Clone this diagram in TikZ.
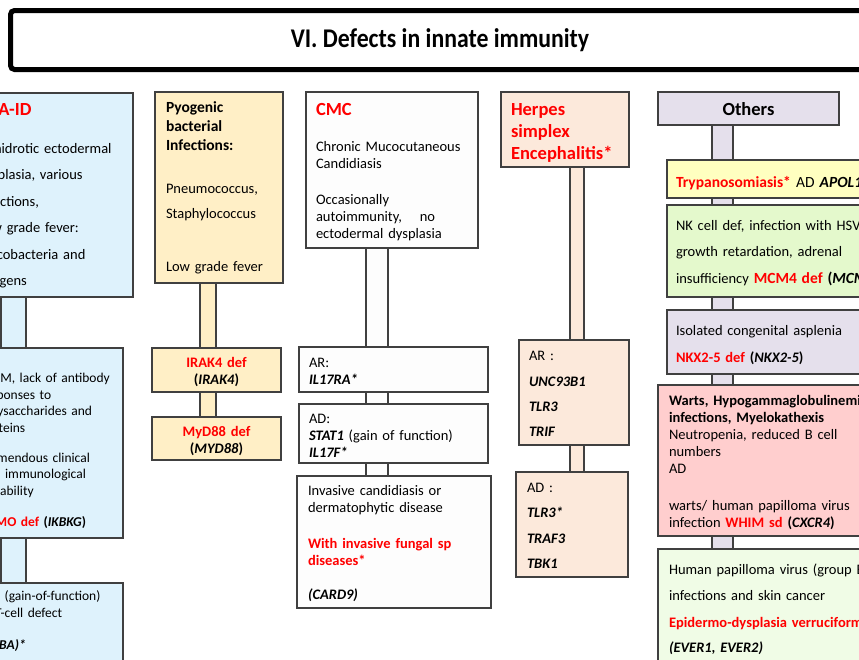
\documentclass[tikz,border=0pt]{standalone}
\usepackage{fontspec}
\setmainfont{Carlito}
\usetikzlibrary{calc}
\definecolor{tred}{RGB}{255,0,0}
\definecolor{cblue}{RGB}{222,242,252}
\definecolor{cyel}{RGB}{255,239,198}
\definecolor{cwhite}{RGB}{253,253,253}
\definecolor{cpeach}{RGB}{252,233,219}
\definecolor{clav}{RGB}{229,224,236}
\definecolor{ctryp}{RGB}{255,255,192}
\definecolor{cgreen}{RGB}{228,249,204}
\definecolor{cpink}{RGB}{255,206,206}
\definecolor{cgreenl}{RGB}{240,252,230}
\definecolor{bord}{RGB}{64,64,64}
\newcommand\fsn{\fontsize{14.5}{17}\selectfont}
\newcommand\fss{\fontsize{13.5}{16.5}\selectfont}
\newcommand\fst{\fontsize{18.5}{22}\selectfont\bfseries}
\newcommand\redb[1]{{\color{tred}\bfseries #1}}
\newcommand\gbi[1]{{\bfseries\itshape #1}}
\begin{document}
\begin{tikzpicture}[x=1pt,y=-1pt,
  box/.style={draw=bord, line width=1.1pt, rectangle, inner sep=0pt, outer sep=0pt, anchor=north west},
  bar/.style={draw=bord, line width=1.1pt},
  txt/.style={anchor=base west, inner sep=0pt, outer sep=0pt, text width=320pt, align=left, font=\fsn},
  ctxt/.style={anchor=base, inner sep=0pt, outer sep=0pt, text width=125pt, align=center, font=\fsn}]
\useasboundingbox (0,0) rectangle (859,659);
\fill[white] (0,0) rectangle (859,659);
\clip (0,0) rectangle (859,659);

% title
\node[draw=black, line width=5pt, rounded corners=4pt, inner sep=0pt, outer sep=0pt, anchor=north west,
      minimum width=859pt, minimum height=59pt] (title) at (10.5,10.5)
  {\raisebox{-2pt}{\fontsize{27}{30}\selectfont\bfseries\scalebox{0.88}[1]{VI. Defects in innate immunity}}};

% bar x positions
\coordinate (k1l) at (1,0);   \coordinate (k1r) at (26,0);
\coordinate (k2l) at (200,0); \coordinate (k2r) at (216,0);
\coordinate (k3l) at (366,0); \coordinate (k3r) at (388,0);
\coordinate (k4l) at (570,0); \coordinate (k4r) at (584,0);
\coordinate (k5l) at (712,0); \coordinate (k5r) at (733,0);

% column 1
\node[box, fill=cblue, minimum width=163pt, minimum height=204pt] (b1) at (-30,93) {};
\node[box, fill=cblue, minimum width=153pt, minimum height=190pt] (b2) at (-30,348) {};
\node[box, fill=cblue, minimum width=153pt, minimum height=100pt] (b3) at (-30,583) {};
\draw[bar, fill=cblue] (b1.south -| k1l) rectangle (b2.north -| k1r);
\draw[bar, fill=cblue] (b2.south -| k1l) rectangle (b3.north -| k1r);
\node[txt] (t1) at (-22,115) {{\fst\color{tred}EDA-ID}\\[21pt]
  Anhidrotic ectodermal\\[9.5pt]
  dysplasia, various\\[9.5pt]
  infections,\\[9.5pt]
  Low grade fever:\\[9.5pt]
  Mycobacteria and\\[9.5pt]
  pyogens};
\node[txt, font=\fss] (t2) at (-20,382.5) {HIGM, lack of antibody\\
  responses to\\
  polysaccharides and\\
  proteins\\[13.5pt]
  Tremendous clinical\\
  and immunological\\
  variability\\[14.5pt]
  \redb{NEMO def} \textbf{(\textit{IKBKG})}};
\node[txt, font=\fss] (t3) at (-16,600.5) {AD (gain-of-function)\\
  \hspace*{11pt}T-cell defect\\[15.5pt]
  \gbi{(IKBA)*}};

% column 2
\node[box, fill=cyel, minimum width=128pt, minimum height=191pt] (p1) at (155,92) {};
\node[box, fill=cyel, minimum width=129pt, minimum height=44pt] (p2) at (152,348) {};
\node[box, fill=cyel, minimum width=129pt, minimum height=43pt] (p3) at (152,417) {};
\draw[bar, fill=cyel] (p1.south -| k2l) rectangle (p2.north -| k2r);
\draw[bar, fill=cyel] (p2.south -| k2l) rectangle (p3.north -| k2r);
\node[txt] (t4) at (166,112) {{\bfseries\fontsize{15.5}{17}\selectfont Pyogenic\\[2pt]
  bacterial\\[2pt]
  Infections:}\\[26pt]
  Pneumococcus,\\[8pt]
  Staphylococcus\\[36pt]
  Low grade fever};
\node[ctxt] (t5) at (216.5,367) {\redb{IRAK4 def}\\ \textbf{(\textit{IRAK4})}};
\node[ctxt] (t6) at (216.5,436) {\redb{MyD88 def}\\ \textbf{(\textit{MYD88})}};

% column 3
\node[box, fill=cwhite, minimum width=172pt, minimum height=156pt] (c1) at (306,92) {};
\node[box, fill=cwhite, minimum width=189pt, minimum height=45pt] (c2) at (299,347) {};
\node[box, fill=cwhite, minimum width=189pt, minimum height=59pt] (c3) at (299,404) {};
\node[box, fill=cwhite, minimum width=194pt, minimum height=132pt] (c4) at (297,476) {};
\draw[bar, fill=cwhite] (c1.south -| k3l) rectangle (c2.north -| k3r);
\draw[bar, fill=cwhite] (c2.south -| k3l) rectangle (c3.north -| k3r);
\draw[bar, fill=cwhite] (c3.south -| k3l) rectangle (c4.north -| k3r);
\node[txt] (t7) at (316,115) {{\fst\color{tred}CMC}\\[19pt]
  Chronic Mucocutaneous\\
  Candidiasis\\[19pt]
  Occasionally\\
  autoimmunity,\hspace*{13pt} no\\
  ectodermal dysplasia};
\node[txt] (t8) at (309,367) {AR:\\ \gbi{IL17RA*}};
\node[txt] (t9) at (309,423) {AD:\\ \gbi{STAT1} (gain of function)\\ \gbi{IL17F*}};
\node[txt] (t10) at (308,495) {Invasive candidiasis or\\
  dermatophytic disease\\[19pt]
  \redb{With invasive fungal sp}\\
  \redb{diseases*}\\[17pt]
  \gbi{(CARD9)}};

% column 4
\node[box, fill=cpeach, minimum width=128pt, minimum height=75pt] (h1) at (501,92) {};
\node[box, fill=cpeach, minimum width=110pt, minimum height=105pt] (h2) at (519,340) {};
\node[box, fill=cpeach, minimum width=112pt, minimum height=105pt] (h3) at (516,472) {};
\draw[bar, fill=cpeach] (h1.south -| k4l) rectangle (h2.north -| k4r);
\draw[bar, fill=cpeach] (h2.south -| k4l) rectangle (h3.north -| k4r);
\node[txt, font=\fst, text=tred] (t11) at (511,115) {Herpes\\ simplex\\ Encephalitis*};
\node[txt] (t12) at (529,360) {AR :\\[9pt] \gbi{UNC93B1}\\[8pt] \gbi{TLR3}\\[8pt] \gbi{TRIF}};
\node[txt] (t13) at (527,492) {AD :\\[8pt] \gbi{TLR3*}\\[9pt] \gbi{TRAF3}\\[8pt] \gbi{TBK1}};

% column 5
\node[box, fill=clav, minimum width=181pt, minimum height=33pt] (o1) at (658,92) {};
\node[box, fill=ctryp, minimum width=220pt, minimum height=38pt] (o2) at (667,160) {};
\node[box, fill=cgreen, minimum width=220pt, minimum height=92pt] (o3) at (667,205) {};
\node[box, fill=clav, minimum width=220pt, minimum height=64pt] (o4) at (667,310) {};
\node[box, fill=cpink, minimum width=230pt, minimum height=151pt] (o5) at (658,385) {};
\node[box, fill=cgreenl, minimum width=230pt, minimum height=130pt] (o6) at (658,549) {};
\draw[bar, fill=clav] (o1.south -| k5l) rectangle (o2.north -| k5r);
\draw[bar, fill=clav] (o2.south -| k5l) rectangle (o3.north -| k5r);
\draw[bar, fill=clav] (o3.south -| k5l) rectangle (o4.north -| k5r);
\draw[bar, fill=clav] (o4.south -| k5l) rectangle (o5.north -| k5r);
\draw[bar, fill=clav] (o5.south -| k5l) rectangle (o6.north -| k5r);
\node[anchor=base, inner sep=0pt, font=\fst] (t14) at (748.5,115) {Others};
\node[txt, font=\fontsize{15.5}{17}\selectfont] (t15) at (676,187) {\redb{Trypanosomiasis*} AD \gbi{APOL1}};
\node[txt] (t16) at (676,230) {NK cell def, infection with HSV,\\[9.5pt]
  growth retardation, adrenal\\[9.5pt]
  insufficiency {\fontsize{15.5}{17}\selectfont\redb{MCM4 def} \textbf{(\textit{MCM4})}}};
\node[txt] (t17) at (676,335) {Isolated congenital asplenia\\[10pt]
  \redb{NKX2-5 def} \textbf{(\textit{NKX2-5})}};
\node[txt] (t18) at (669,405) {\textbf{Warts, Hypogammaglobulinemia,}\\
  \textbf{infections, Myelokathexis}\\
  Neutropenia, reduced B cell\\
  numbers\\
  AD\\[20pt]
  warts/ human papilloma virus\\
  infection \redb{WHIM sd} \textbf{(\textit{CXCR4})}};
\node[txt] (t19) at (669,574) {Human papilloma virus (group B1)\\[9pt]
  infections and skin cancer\\[10pt]
  \redb{Epidermo-dysplasia verruciformis}\\[8pt]
  \gbi{(EVER1, EVER2)}};
\end{tikzpicture}
\end{document}
